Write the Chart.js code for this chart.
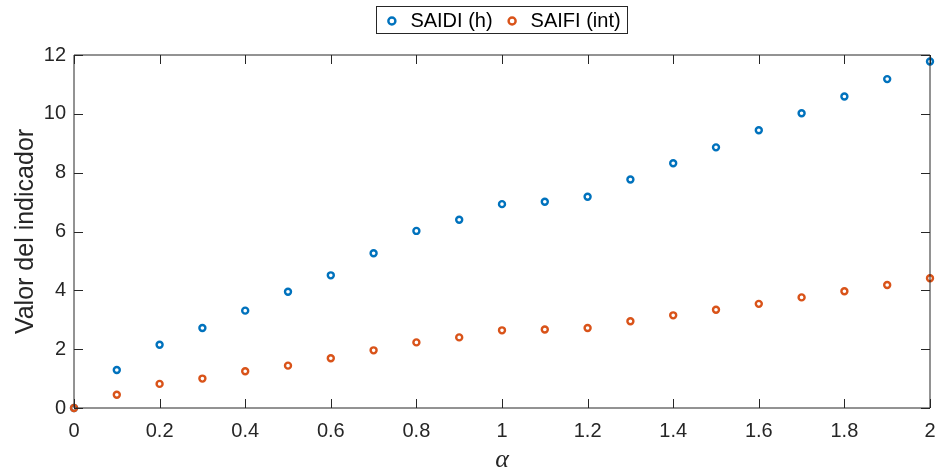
<!DOCTYPE html>
<html><head><meta charset="utf-8">
<script src="https://cdn.jsdelivr.net/npm/chart.js@4"></script>
<style>html,body{margin:0;padding:0;background:#fff}#wrap{width:938px;height:476px;position:relative}</style>
</head><body><div id="wrap"><canvas id="c"></canvas></div>
<script>
const alphaValues = [0, 0.1, 0.2, 0.3, 0.4, 0.5, 0.6, 0.7, 0.8, 0.9, 1.0, 1.1, 1.2, 1.3, 1.4, 1.5, 1.6, 1.7, 1.8, 1.9, 2.0];
const saidiValues = [0, 1.29, 2.15, 2.72, 3.31, 3.95, 4.51, 5.26, 6.02, 6.40, 6.93, 7.01, 7.18, 7.77, 8.32, 8.86, 9.44, 10.02, 10.59, 11.18, 11.78];
const saifiValues = [0, 0.45, 0.82, 1.00, 1.25, 1.44, 1.69, 1.96, 2.23, 2.40, 2.64, 2.67, 2.72, 2.95, 3.15, 3.34, 3.54, 3.76, 3.97, 4.18, 4.41];
const xTickLabels = ['0', '0.2', '0.4', '0.6', '0.8', '1', '1.2', '1.4', '1.6', '1.8', '2'];
const yTickLabels = ['0', '2', '4', '6', '8', '10', '12'];
const seriesNames = ['SAIDI (h)', 'SAIFI (int)'];

const AXIS = '#262626';
const LEGEND_EXTRA = 14;
const frameTicks = {
  id: 'frameTicks',
  beforeLayout(chart) {
    const lg = chart.legend;
    if (lg && !lg._wrappedFit) {
      const orig = lg.fit;
      lg.fit = function () { orig.call(this); this.height += LEGEND_EXTRA; };
      lg._wrappedFit = true;
    }
  },
  afterDatasetsDraw(chart) {
    const {ctx, chartArea: a, scales: {x, y}} = chart;
    ctx.save();
    ctx.strokeStyle = AXIS;
    ctx.lineWidth = 1;
    ctx.beginPath();
    ctx.rect(a.left, a.top, a.right - a.left, a.bottom - a.top);
    ctx.stroke();
    const L = 9;
    ctx.beginPath();
    x.ticks.forEach(t => {
      const px = Math.round(x.getPixelForValue(t.value)) + 0.5;
      ctx.moveTo(px, a.bottom); ctx.lineTo(px, a.bottom - L);
      ctx.moveTo(px, a.top); ctx.lineTo(px, a.top + L);
    });
    y.ticks.forEach(t => {
      const py = Math.round(y.getPixelForValue(t.value)) + 0.5;
      ctx.moveTo(a.left, py); ctx.lineTo(a.left + L, py);
      ctx.moveTo(a.right, py); ctx.lineTo(a.right - L, py);
    });
    ctx.stroke();
    ctx.restore();
  },
  afterDraw(chart) {
    const lg = chart.legend;
    if (!lg || !lg.legendHitBoxes || !lg.legendHitBoxes.length) return;
    const hb = lg.legendHitBoxes;
    const left = Math.min(...hb.map(h => h.left)) - 7;
    const right = Math.max(...hb.map(h => h.left + h.width)) + 7;
    const top = Math.min(...hb.map(h => h.top)) - 5;
    const bottom = Math.max(...hb.map(h => h.top + h.height)) + 2;
    const ctx = chart.ctx;
    ctx.save();
    ctx.strokeStyle = AXIS;
    ctx.lineWidth = 1;
    ctx.strokeRect(Math.round(left) + 0.5, Math.round(top) + 0.5, Math.round(right - left), Math.round(bottom - top));
    ctx.restore();
  }
};

const toPts = vals => alphaValues.map((a, i) => ({x: a, y: vals[i]}));

new Chart(document.getElementById('c'), {
  type: 'scatter',
  data: {
    datasets: [
      {label: seriesNames[0], order: 1, data: toPts(saidiValues), borderColor: '#0072BD', backgroundColor: 'rgba(255,255,255,0)', pointRadius: 3, pointBorderWidth: 2.4, borderWidth: 2.4, pointHoverRadius: 3, clip: false},
      {label: seriesNames[1], order: 0, data: toPts(saifiValues), borderColor: '#D95319', backgroundColor: 'rgba(255,255,255,0)', pointRadius: 3, pointBorderWidth: 2.4, borderWidth: 2.4, pointHoverRadius: 3, clip: false}
    ]
  },
  options: {
    responsive: true,
    maintainAspectRatio: false,
    animation: false,
    layout: {padding: {left: 0, right: 8, top: 0, bottom: 0}},
    plugins: {
      tooltip: {enabled: false},
      legend: {
        position: 'top',
        fullSize: false,
        labels: {
          usePointStyle: true,
          pointStyle: 'circle',
          boxWidth: 17,
          boxHeight: 5,
          padding: 11,
          color: '#000',
          sort: (a, b) => a.datasetIndex - b.datasetIndex,
          font: {family: '"Liberation Sans", Arial, sans-serif', size: 20}
        }
      }
    },
    scales: {
      x: {
        type: 'linear', min: 0, max: 2,
        afterFit(s) { s.height = 68; s.paddingRight = 0; s.paddingLeft = 0; },
        afterBuildTicks(s) { s.ticks = xTickLabels.map(v => ({value: parseFloat(v)})); },
        grid: {display: false, drawTicks: false},
        border: {display: false},
        ticks: {
          padding: 11, color: AXIS, maxRotation: 0, autoSkip: false,
          font: {family: '"Liberation Sans", Arial, sans-serif', size: 20},
          callback: (v, i) => xTickLabels[i]
        },
        title: {display: true, text: 'α', color: AXIS, padding: {top: 0, bottom: 0},
          font: {family: '"Liberation Serif", "DejaVu Serif", serif', size: 26, style: 'italic'}}
      },
      y: {
        type: 'linear', min: 0, max: 12,
        afterFit(s) { s.width = 74; s.paddingTop = 0; s.paddingBottom = 0; },
        afterBuildTicks(s) { s.ticks = yTickLabels.map(v => ({value: parseFloat(v)})); },
        grid: {display: false, drawTicks: false},
        border: {display: false},
        ticks: {
          padding: 8, color: AXIS, autoSkip: false,
          font: {family: '"Liberation Sans", Arial, sans-serif', size: 20},
          callback: (v, i) => yTickLabels[i]
        },
        title: {display: true, text: 'Valor del indicador', color: AXIS, padding: {top: 11, bottom: 0},
          font: {family: '"Liberation Sans", Arial, sans-serif', size: 25}}
      }
    }
  },
  plugins: [frameTicks]
});
</script></body></html>
